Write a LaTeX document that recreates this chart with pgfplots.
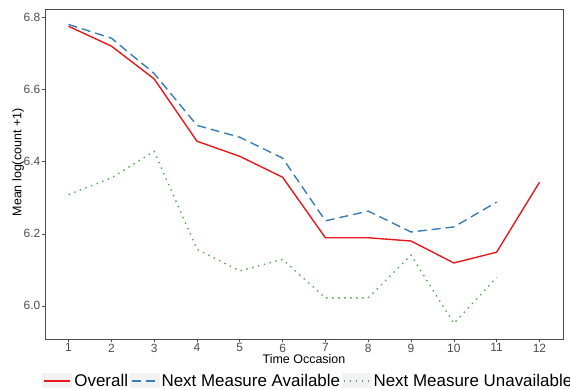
\documentclass[border=0pt]{standalone}
\usepackage{pgfplots}
\pgfplotsset{compat=1.18}
\usepackage{fontspec}
\setmainfont{Liberation Sans}
\definecolor{cRed}{HTML}{E41A1C}
\definecolor{cBlue}{HTML}{377EB8}
\definecolor{cGreen}{HTML}{4DAF4A}
\definecolor{tickgray}{HTML}{4D4D4D}
\definecolor{keybg}{HTML}{F2F2F2}
\begin{document}
\begin{tikzpicture}
\begin{axis}[
  at={(45bp,51bp)}, anchor=south west,
  scale only axis, width=518bp, height=330bp,
  xmin=0.45, xmax=12.55, ymin=5.908, ymax=6.824,
  xtick={1,...,12},
  ytick={6.0,6.2,6.4,6.6,6.8},
  /pgf/number format/assume math mode=true,
  yticklabel style={/pgf/number format/fixed, /pgf/number format/fixed zerofill, /pgf/number format/precision=1, inner sep=1.5bp},
  axis line style={black!70, line width=0.8bp},
  tick style={black!70, line width=0.6bp},
  major tick length=3bp,
  tick align=outside,
  xtick pos=bottom, ytick pos=left,
  ticklabel style={font=\fontsize{12}{14}\selectfont, text=tickgray},
  xticklabel style={inner sep=1.5bp},
  xlabel={Time Occasion},
  ylabel={Mean log(count +1)},
  label style={font=\fontsize{12.5}{15}\selectfont},
  xlabel style={at={(axis description cs:0.5,-0.061)}, anchor=center},
  ylabel style={at={(axis description cs:-0.052,0.535)}, anchor=center},
  legend columns=3,
  legend style={at={(axis description cs:-0.005,-0.127)}, anchor=west,
    draw=none, fill=none, inner sep=0pt, outer sep=0pt,
    font=\fontsize{17}{20}\selectfont,
    nodes={inner sep=1.5bp},
    /tikz/every even column/.style={column sep=0pt},
    /tikz/every odd column/.style={column sep=0.5bp}},
  legend image code/.code={
    \fill[keybg, draw=none, solid] (0bp,-7.5bp) rectangle (30bp,7.5bp);
    \draw[#1] (2bp,0bp) -- (28bp,0bp);
  },
]
\addplot[cRed, line width=1.4bp] coordinates {
(1,6.776) (2,6.721) (3,6.630) (4,6.457) (5,6.415) (6,6.357)
(7,6.189) (8,6.189) (9,6.180) (10,6.119) (11,6.149) (12,6.343)};
\addlegendentry{Overall}
\addplot[cBlue, line width=1.4bp, dash pattern=on 9bp off 5bp] coordinates {
(1,6.781) (2,6.743) (3,6.645) (4,6.501) (5,6.468) (6,6.410)
(7,6.236) (8,6.263) (9,6.205) (10,6.219) (11,6.288)};
\addlegendentry{Next Measure Available}
\addplot[cGreen, line width=1.4bp, dash pattern=on 1.4bp off 4.6bp] coordinates {
(1,6.309) (2,6.355) (3,6.429) (4,6.157) (5,6.097) (6,6.129)
(7,6.022) (8,6.022) (9,6.141) (10,5.951) (11,6.079)};
\addlegendentry{Next Measure Unavailable}
\end{axis}
\pgfresetboundingbox
\useasboundingbox (0,0) rectangle (570bp,390bp);
\end{tikzpicture}
\end{document}
